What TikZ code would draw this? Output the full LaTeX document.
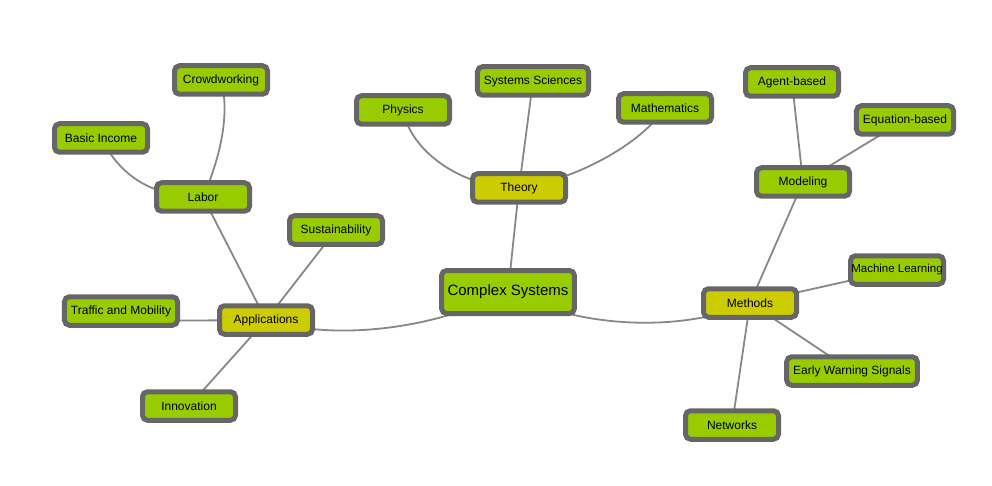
\documentclass[tikz,border=0pt]{standalone}
\usepackage{fontspec}
\setmainfont{Liberation Sans}
\usetikzlibrary{backgrounds}
\definecolor{leaf}{HTML}{99CC00}
\definecolor{hub}{HTML}{CCCC00}
\definecolor{rim}{HTML}{666666}
\definecolor{wirecol}{HTML}{888888}
\tikzset{
  box/.style={draw=rim, line width=5pt, rounded corners=5pt, fill=leaf,
    minimum width=93pt, minimum height=28.5pt, inner xsep=6.5pt, inner ysep=0pt,
    font=\fontsize{12}{14}\selectfont, text=black},
  hubbox/.style={box, fill=hub},
  rootbox/.style={box, minimum width=132pt, minimum height=43pt, inner xsep=6pt,
    font=\fontsize{15}{18}\selectfont},
  wire/.style={draw=wirecol, line width=1.8pt},
}
\begin{document}
\begin{tikzpicture}[x=1pt, y=-1pt]
\useasboundingbox (0,0) rectangle (992,486);

\node[rootbox] (cs) at (508,292) {Complex Systems};

\node[hubbox] (th) at (519,188) {Theory};
\node[box] (ph) at (403,110) {Physics};
\node[box] (ss) at (533,81) {Systems Sciences};
\node[box] (ma) at (665,108) {Mathematics};

\node[hubbox] (me) at (750,303) {Methods};
\node[box] (mo) at (803,182) {Modeling};
\node[box] (ag) at (792,82) {Agent-based};
\node[box] (eq) at (905,120) {Equation-based};
\node[box, inner xsep=0pt, font=\fontsize{11.5}{14}\selectfont] (ml) at (897,270) {Machine Learning};
\node[box] (ew) at (852,371) {Early Warning Signals};
\node[box] (nw) at (732,425) {Networks};

\node[hubbox] (ap) at (266,320) {Applications};
\node[box] (la) at (203,197) {Labor};
\node[box] (cw) at (221,80) {Crowdworking};
\node[box] (bi) at (101,138) {Basic Income};
\node[box] (su) at (336,230) {Sustainability};
\node[box] (tr) at (121,311) {Traffic and Mobility};
\node[box] (in) at (189,406) {Innovation};

\begin{pgfonlayer}{background}
  \fill[white] (0,0) rectangle (992,486);
  \draw[wire] (cs.center) .. controls +(-80,40) and +(64,20) .. (ap.center);
  \draw[wire] (cs.center) .. controls +(80,40) and +(-60,27) .. (me.center);
  \draw[wire] (cs.center) -- (th.center);

  \draw[wire] (th.center) .. controls +(-59,0) and +(7,40) .. (ph.center);
  \draw[wire] (th.center) -- (ss.center);
  \draw[wire] (th.center) .. controls +(56,-8) and +(-25,37) .. (ma.center);

  \draw[wire] (me.center) -- (mo.center);
  \draw[wire] (mo.center) -- (ag.center);
  \draw[wire] (mo.center) -- (eq.center);
  \draw[wire] (me.center) -- (ml.center);
  \draw[wire] (me.center) -- (ew.center);
  \draw[wire] (me.center) -- (nw.center);

  \draw[wire] (ap.center) -- (la.center);
  \draw[wire] (la.center) .. controls +(12,-27) and +(11,40) .. (cw.center);
  \draw[wire] (la.center) .. controls +(-53,0) and +(19,37) .. (bi.center);
  \draw[wire] (ap.center) -- (su.center);
  \draw[wire] (ap.center) -- ([yshift=-10pt]tr.center);
  \draw[wire] (ap.center) -- (in.center);
\end{pgfonlayer}
\end{tikzpicture}
\end{document}
